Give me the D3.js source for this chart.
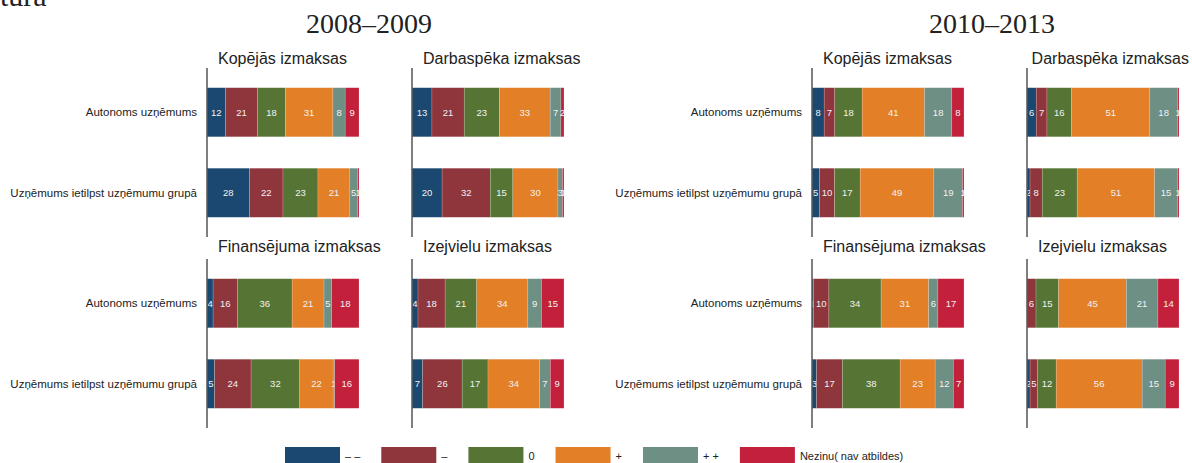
<!DOCTYPE html>
<html>
<head>
<meta charset="utf-8">
<script src="https://cdn.jsdelivr.net/npm/d3@7"></script>
<style>
  body { margin: 0; background: #fff; }
  svg { display: block; font-family: "Liberation Sans", Arial, sans-serif; }
</style>
</head>
<body>
<svg></svg>
<script>
let width = 1192, height = 463;

// Data
let categories = ["– –", "–", "0", "+", "+ +", "Nezinu( nav atbildes)"];
let rows = ["Autonoms uzņēmums", "Uzņēmums ietilpst uzņēmumu grupā"];
let periods = ["2008–2009", "2010–2013"];
let costTypes = ["Kopējās izmaksas", "Darbaspēka izmaksas", "Finansējuma izmaksas", "Izejvielu izmaksas"];

// one array per panel: [autonoms, grupa], values in category order
let kopejas0809 = [[12, 21, 18, 31, 8, 9], [28, 22, 23, 21, 5, 1]];
let darbaspeka0809 = [[13, 21, 23, 33, 7, 2], [20, 32, 15, 30, 3, 1]];
let finansejuma0809 = [[4, 16, 36, 21, 5, 18], [5, 24, 32, 22, 1, 16]];
let izejvielu0809 = [[4, 18, 21, 34, 9, 15], [7, 26, 17, 34, 7, 9]];
let kopejas1013 = [[8, 7, 18, 41, 18, 8], [5, 10, 17, 49, 19, 1]];
let darbaspeka1013 = [[6, 7, 16, 51, 18, 1], [2, 8, 23, 51, 15, 1]];
let finansejuma1013 = [[1, 10, 34, 31, 6, 17], [3, 17, 38, 23, 12, 7]];
let izejvielu1013 = [[0, 6, 15, 45, 21, 14], [2, 5, 12, 56, 15, 9]];

let colors = ["#1a4870", "#8f353c", "#567534", "#e27f27", "#6e8f83", "#c3203b"];

// Layout
let axisX = [[207, 412], [812, 1027]];   // x of each panel's axis, per period
let periodTitleX = [369, 992];
let panelTop = [68, 259];
let titleOffset = [4, 7];
let panelHeight = 169;
let barLength = 152;

let panels = [
    { period: 0, col: 0, row: 0, title: costTypes[0], values: kopejas0809 },
    { period: 0, col: 1, row: 0, title: costTypes[1], values: darbaspeka0809 },
    { period: 0, col: 0, row: 1, title: costTypes[2], values: finansejuma0809 },
    { period: 0, col: 1, row: 1, title: costTypes[3], values: izejvielu0809 },
    { period: 1, col: 0, row: 0, title: costTypes[0], values: kopejas1013 },
    { period: 1, col: 1, row: 0, title: costTypes[1], values: darbaspeka1013 },
    { period: 1, col: 0, row: 1, title: costTypes[2], values: finansejuma1013 },
    { period: 1, col: 1, row: 1, title: costTypes[3], values: izejvielu1013 }
];

let svg = d3.select("svg")
    .attr("width", width)
    .attr("height", height);

let colorScale = d3.scaleOrdinal()
    .domain(categories)
    .range(colors);

let y = d3.scaleBand()
    .domain(rows)
    .range([0, panelHeight])
    .paddingInner(0.39)
    .paddingOuter(0.245);

let stack = d3.stack()
    .keys(categories)
    .offset(d3.stackOffsetExpand);

// cut-off page title at the top left
svg.append("text")
    .attr("x", 0)
    .attr("y", 6)
    .style("font-family", "'Liberation Serif', 'Times New Roman', serif")
    .style("font-size", "30px")
    .attr("fill", "#222")
    .text("tura");

// period titles
svg.selectAll(".period")
    .data(periods)
    .enter().append("text")
    .attr("class", "period")
    .attr("x", (d, i) => periodTitleX[i])
    .attr("y", 33)
    .attr("text-anchor", "middle")
    .style("font-family", "'Liberation Serif', 'Times New Roman', serif")
    .style("font-size", "28px")
    .attr("fill", "#222")
    .text(d => d);

// row labels, left of the first column of each period
periods.forEach((p, pi) => {
    panelTop.forEach(top => {
        svg.append("g")
            .attr("transform", "translate(" + (axisX[pi][0] - 10) + "," + top + ")")
            .selectAll("text")
            .data(rows)
            .enter().append("text")
            .attr("x", 0)
            .attr("y", d => y(d) + y.bandwidth() / 2)
            .attr("dy", "0.35em")
            .attr("text-anchor", "end")
            .style("font-size", "11.5px")
            .attr("fill", "#222")
            .text(d => d);
    });
});

// Panels
panels.forEach(panel => {
    let x0 = axisX[panel.period][panel.col];
    let top = panelTop[panel.row];

    let x = d3.scaleLinear()
        .domain([0, 1])
        .range([x0, x0 + barLength]);

    let table = rows.map((r, i) => {
        let o = { row: r };
        categories.forEach((c, j) => { o[c] = panel.values[i][j]; });
        return o;
    });
    let series = stack(table);

    let g = svg.append("g")
        .attr("transform", "translate(0," + top + ")");

    let layer = g.selectAll("g.layer")
        .data(series)
        .enter().append("g")
        .attr("class", "layer")
        .attr("fill", d => colorScale(d.key));

    layer.selectAll("rect")
        .data(d => d)
        .enter().append("rect")
        .attr("x", d => x(d[0]))
        .attr("y", d => y(d.data.row))
        .attr("width", d => x(d[1]) - x(d[0]))
        .attr("height", y.bandwidth())
        .attr("stroke", "rgba(255,255,255,0.35)")
        .attr("stroke-width", 0.5);

    layer.selectAll("text")
        .data(d => d.map(s => ({ s: s, key: d.key })))
        .enter().append("text")
        .attr("x", d => (x(d.s[0]) + x(d.s[1])) / 2)
        .attr("y", d => y(d.s.data.row) + y.bandwidth() / 2)
        .attr("dy", "0.35em")
        .attr("text-anchor", "middle")
        .style("font-size", "9.5px")
        .attr("fill", "#f2f2f2")
        .text(d => d.s.data[d.key]);

    // axis line
    g.append("line")
        .attr("x1", x0)
        .attr("x2", x0)
        .attr("y1", 0)
        .attr("y2", panelHeight)
        .attr("stroke", "#555")
        .attr("stroke-width", 1.5);

    // panel title, pulled left if it would run off the page
    let title = svg.append("text")
        .attr("y", top - titleOffset[panel.row])
        .style("font-size", "16px")
        .attr("fill", "#222")
        .text(panel.title);
    let tw = title.node().getComputedTextLength();
    title.attr("x", Math.min(x0 + 11, width - 3 - tw));
});

// Legend
let legend = svg.append("g")
    .attr("transform", "translate(285,447)");

let lx = 0;
categories.forEach(c => {
    let item = legend.append("g")
        .attr("transform", "translate(" + lx + ",0)");
    item.append("rect")
        .attr("width", 55)
        .attr("height", 16)
        .attr("fill", colorScale(c));
    let t = item.append("text")
        .attr("x", 60)
        .attr("y", 9)
        .attr("dy", "0.35em")
        .style("font-size", "11px")
        .attr("fill", "#222")
        .text(c);
    lx += 60 + t.node().getComputedTextLength() + 21;
});
</script>
</body>
</html>
